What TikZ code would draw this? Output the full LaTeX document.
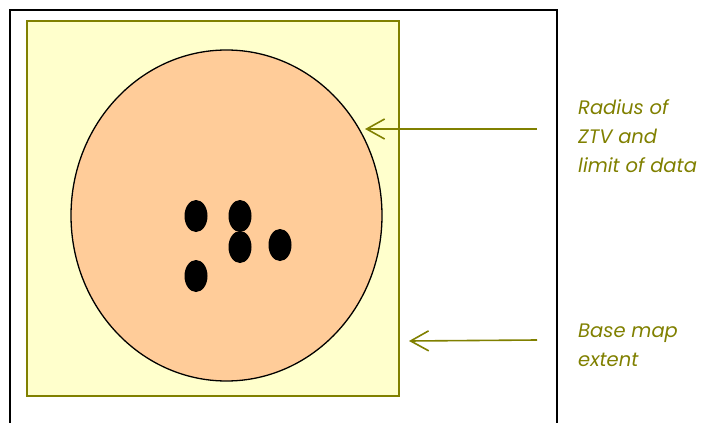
\documentclass[tikz,border=0pt]{standalone}
\usepackage{fontspec}
\setsansfont{Poppins}
\usetikzlibrary{arrows.meta}
\definecolor{olivetxt}{RGB}{128,128,0}
\definecolor{basemap}{RGB}{255,255,204}
\definecolor{ztvfill}{RGB}{255,204,153}
\tikzset{
  lbl/.style={anchor=west,align=left,inner sep=0pt,text=olivetxt,
    font=\sffamily\itshape\fontsize{19.5}{29}\selectfont},
  ptr/.style={olivetxt,line width=1.6pt,-{Straight Barb[length=18pt,width=20pt,line width=1.6pt]}}
}
\begin{document}
\begin{tikzpicture}[x=1pt,y=-1pt]
\useasboundingbox (0,0) rectangle (713,423);
\draw[line width=1.5pt] (10,423) |- (557,10) -- (557,423);
\draw[olivetxt,line width=1.6pt,fill=basemap] (27,21) rectangle (399,396);
\draw[line width=1.3pt,fill=ztvfill] (226.5,215.5) ellipse (155.5 and 165.5);
\foreach \x/\y in {196/216,240/216,240/247,280/245,196/276}
  \fill (\x,\y) ellipse (11.5 and 16);
\node[lbl] (ztvlbl) at (578,136) {Radius of\\ZTV and\\limit of data};
\node[lbl] (maplbl) at (578,345) {Base map\\extent};
\coordinate (ztvtail) at (537,129);
\coordinate (ztvtip) at (365,129);
\coordinate (maptail) at (537,340);
\coordinate (maptip) at (409,341);
\draw[ptr] (ztvtail) -- (ztvtip);
\draw[ptr] (maptail) -- (maptip);
\end{tikzpicture}
\end{document}
